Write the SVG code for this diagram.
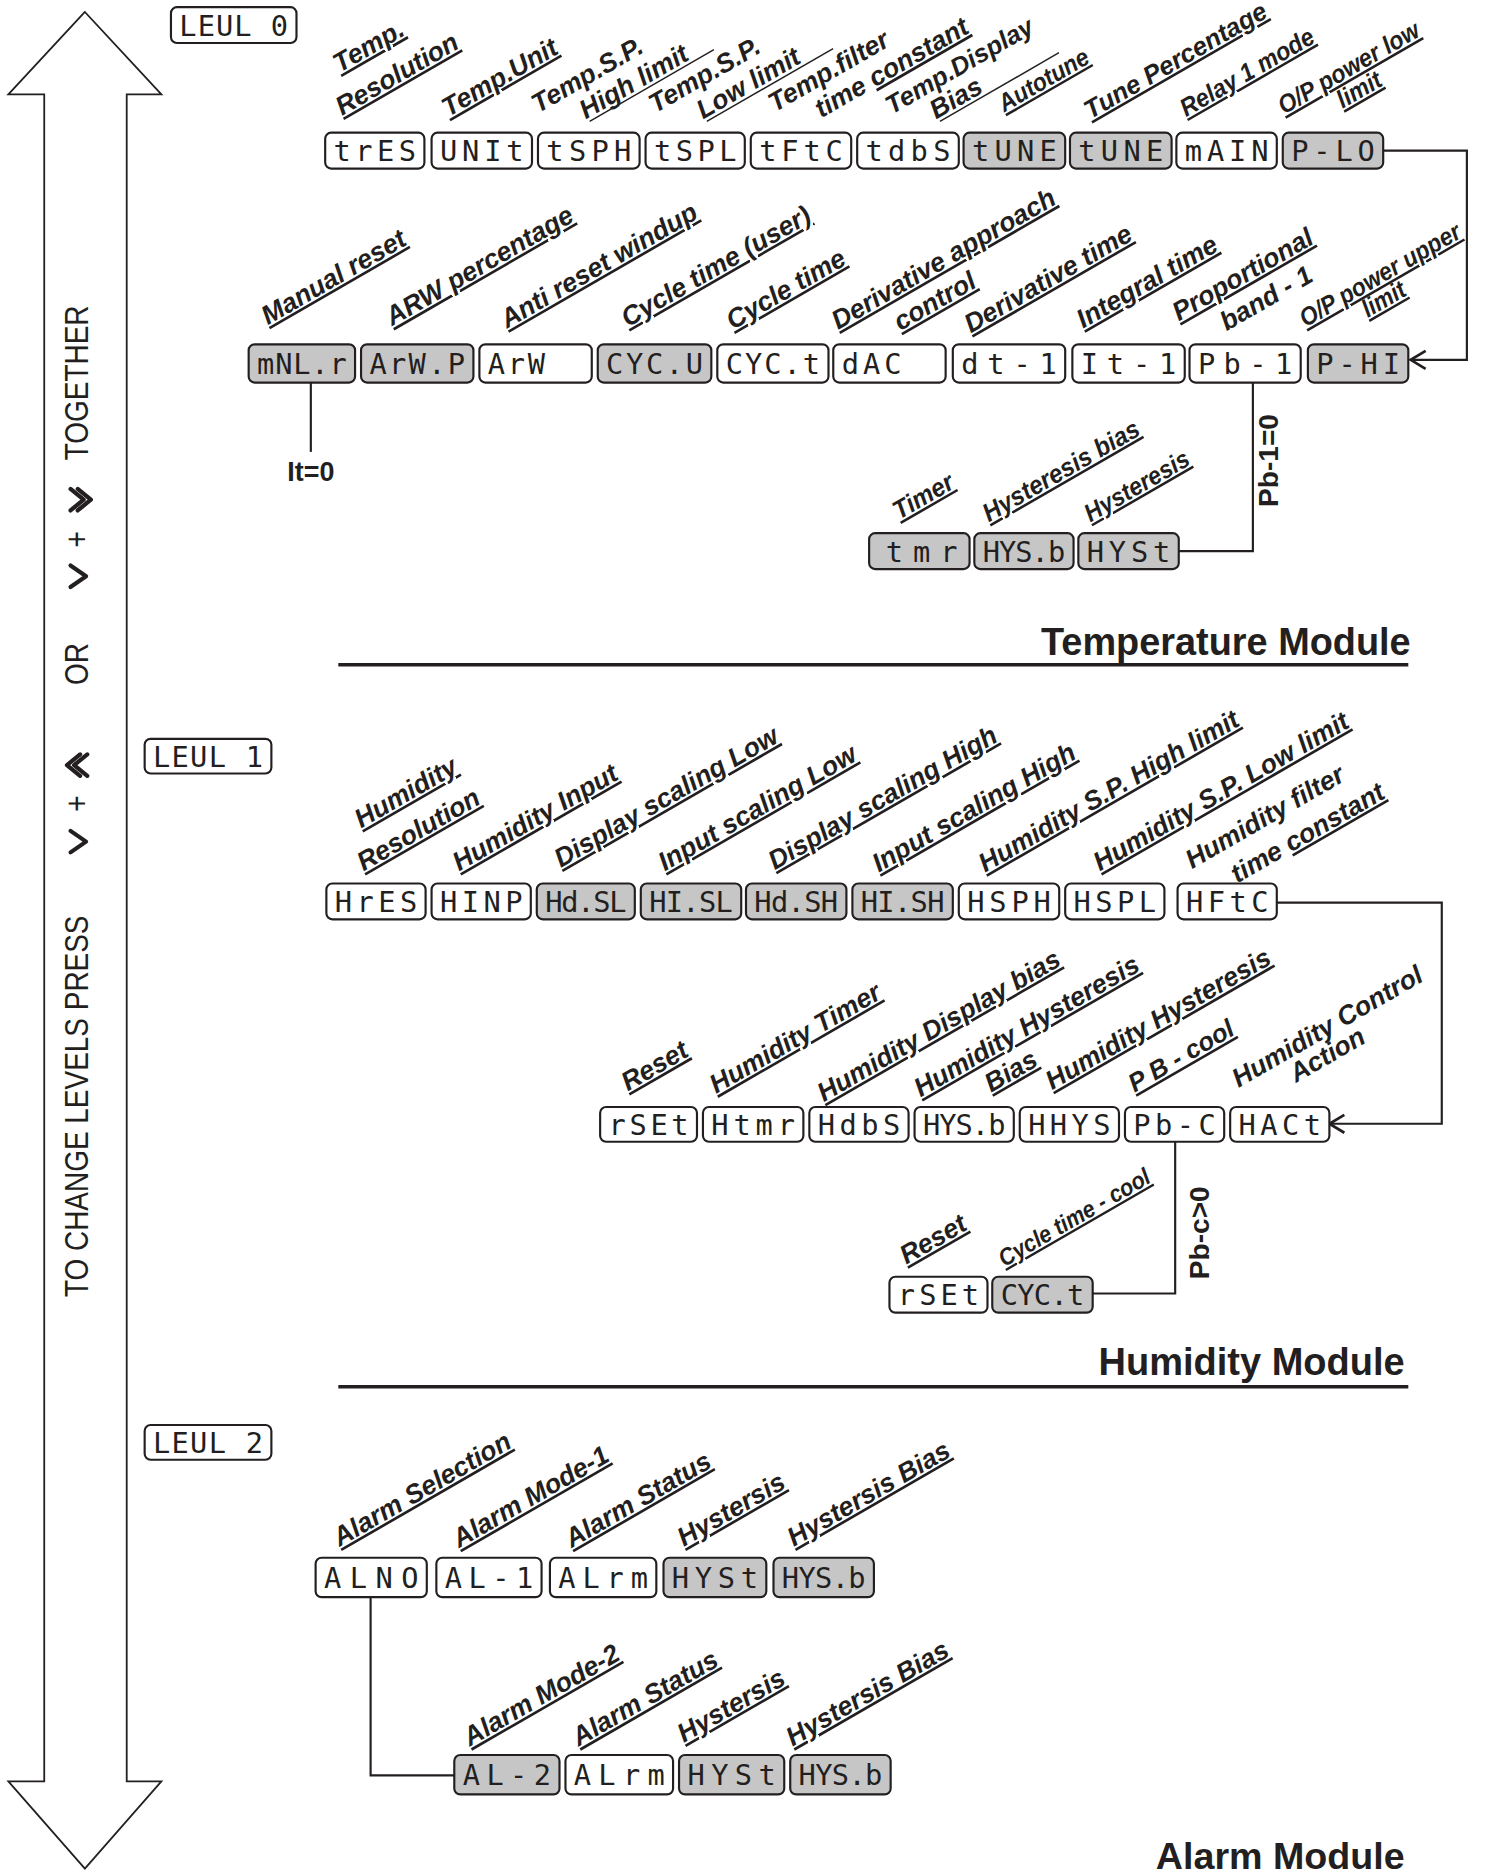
<svg xmlns="http://www.w3.org/2000/svg" width="1486" height="1874" viewBox="0 0 1486 1874">
<style>
.bx{stroke:#231f20;stroke-width:1.8;fill:#fff}
.g{fill:#c6c6c6}
.sg{font-family:'DejaVu Sans Mono','Liberation Mono',monospace;font-size:24px;fill:#231f20}
.lb{font-family:'Liberation Sans',Arial,sans-serif;font-weight:bold;font-style:italic;font-size:22.2px;fill:#231f20}
.u{text-decoration:underline}
.ul{stroke:#231f20;stroke-width:1.2}
.cn{fill:none;stroke:#231f20;stroke-width:1.8}
.vt{font-family:'Liberation Sans',Arial,sans-serif;font-size:23.4px;fill:#231f20}
.bd{font-family:'Liberation Sans',Arial,sans-serif;font-weight:bold;fill:#231f20}
.ch{fill:none;stroke:#231f20;stroke-width:3.5;stroke-linecap:round;stroke-linejoin:round}
</style>
<defs>
<marker id="ah" markerUnits="userSpaceOnUse" markerWidth="20" markerHeight="20" refX="0" refY="0" viewBox="-12 -8 14 16" orient="auto">
<path d="M-10,-6 L0,0 L-10,6" fill="none" stroke="#231f20" stroke-width="1.8"/>
</marker>
</defs>
<rect width="1486" height="1874" fill="#fff"/>
<g transform="scale(1.1955)">
<g id="level-arrow">
<polygon points="71,10 7,79 37,79 37,1490 7,1490 71,1563 135,1490 106,1490 106,79 135,79" fill="#fff" stroke="#231f20" stroke-width="1.5"/>
<text class="vt" transform="translate(73.5,1085) rotate(-90) scale(1,1.2)">TO CHANGE LEVELS PRESS</text>
<polyline class="ch" points="59,695 72,704 59,713"/>
<text class="vt" transform="translate(73.5,679) rotate(-90) scale(1,1.2)">+</text>
<polyline class="ch" points="73,631 62,640 73,649"/>
<polyline class="ch" points="67,631 56,640 67,649"/>
<text class="vt" transform="translate(73.5,573) rotate(-90) scale(1,1.2)">OR</text>
<polyline class="ch" points="59,473 72,482 59,491"/>
<text class="vt" transform="translate(73.5,458) rotate(-90) scale(1,1.2)">+</text>
<polyline class="ch" points="59,409 70,418 59,427"/>
<polyline class="ch" points="65,409 76,418 65,427"/>
<text class="vt" transform="translate(73.5,385) rotate(-90) scale(1,1.2)">TOGETHER</text>
</g>

<g id="connectors">
<path class="cn" d="M1157,126 H1227 V301 H1180" marker-end="url(#ah)"/>
<path class="cn" d="M1048,320 V461 H986"/>
<path class="cn" d="M260,320 V378"/>
<path class="cn" d="M1068,755 H1206 V940 H1112" marker-end="url(#ah)"/>
<path class="cn" d="M983,955 V1082 H914"/>
<path class="cn" d="M310,1336 V1485 H380"/>
<text class="bd" style="font-size:22.5px" x="260" y="402" text-anchor="middle">It=0</text>
<text class="bd" style="font-size:23.5px" transform="translate(1069,424) rotate(-90)">Pb-1=0</text>
<text class="bd" style="font-size:23.5px" transform="translate(1011,1070) rotate(-90)">Pb-c&gt;0</text>
</g>

<g id="level0"><rect class="bx" x="143" y="6" width="105" height="30" rx="5"/><text class="sg" x="150" y="30" textLength="91" lengthAdjust="spacing">LEUL 0</text></g>
<g id="level1"><rect class="bx" x="121" y="618" width="106" height="29" rx="5"/><text class="sg" x="128" y="641.5" textLength="92" lengthAdjust="spacing">LEUL 1</text></g>
<g id="level2"><rect class="bx" x="121" y="1192" width="106" height="29" rx="5"/><text class="sg" x="128" y="1215.5" textLength="92" lengthAdjust="spacing">LEUL 2</text></g>

<!-- Temperature level 0 row 1 -->
<g id="tres"><rect class="bx" x="272" y="111" width="83" height="30" rx="5"/><text class="sg" x="279" y="135" textLength="69" lengthAdjust="spacing">trES</text>
<text class="lb u" transform="translate(284,61) rotate(-30)">Temp.</text><text class="lb u" transform="translate(286,97) rotate(-30)">Resolution</text></g>
<g id="unit"><rect class="bx" x="361" y="111" width="84" height="30" rx="5"/><text class="sg" x="368" y="135" textLength="70" lengthAdjust="spacing">UNIt</text>
<text class="lb u" transform="translate(375,98) rotate(-30)">Temp.Unit</text></g>
<g id="tsph"><rect class="bx" x="450" y="111" width="85" height="30" rx="5"/><text class="sg" x="457" y="135" textLength="71" lengthAdjust="spacing">tSPH</text>
<text class="lb" transform="translate(450,95) rotate(-30)">Temp.S.P.</text><g transform="translate(490,100) rotate(-30)"><text class="lb" x="0" y="0">High limit</text><line class="ul" x1="2" y1="3" x2="122" y2="3"/></g></g>
<g id="tspl"><rect class="bx" x="540" y="111" width="83" height="30" rx="5"/><text class="sg" x="547" y="135" textLength="69" lengthAdjust="spacing">tSPL</text>
<text class="lb" transform="translate(548,95) rotate(-30)">Temp.S.P.</text><g transform="translate(588,100) rotate(-30)"><text class="lb" x="0" y="0">Low limit</text><line class="ul" x1="2" y1="3" x2="124" y2="3"/></g></g>
<g id="tftc"><rect class="bx" x="628" y="111" width="84" height="30" rx="5"/><text class="sg" x="635" y="135" textLength="70" lengthAdjust="spacing">tFtC</text>
<text class="lb" transform="translate(648,94) rotate(-30)">Temp.filter</text><text class="lb" transform="translate(687,99) rotate(-30)">time <tspan class="u">constant</tspan></text></g>
<g id="tdbs"><rect class="bx" x="717" y="111" width="85" height="30" rx="5"/><text class="sg" x="724" y="135" textLength="71" lengthAdjust="spacing">tdbS</text>
<text class="lb" style="font-size:21.5px" transform="translate(746,96) rotate(-30)">Temp.Display</text><g transform="translate(783,100) rotate(-30)"><text class="lb" x="0" y="0">Bias</text><line class="ul" x1="2" y1="3" x2="117" y2="3"/></g></g>
<g id="tune1"><rect class="bx g" x="806" y="111" width="85" height="30" rx="5"/><text class="sg" x="813" y="135" textLength="71" lengthAdjust="spacing">tUNE</text>
<text class="lb u" style="font-size:21px" textLength="84" lengthAdjust="spacingAndGlyphs" transform="translate(840,94) rotate(-30)">Autotune</text></g>
<g id="tune2"><rect class="bx g" x="895" y="111" width="85" height="30" rx="5"/><text class="sg" x="902" y="135" textLength="71" lengthAdjust="spacing">tUNE</text>
<text class="lb u" style="font-size:21.5px" transform="translate(912,100) rotate(-30)">Tune Percentage</text></g>
<g id="main"><rect class="bx" x="984" y="111" width="84" height="30" rx="5"/><text class="sg" x="991" y="135" textLength="70" lengthAdjust="spacing">mAIN</text>
<text class="lb u" style="font-size:21px" textLength="126" lengthAdjust="spacingAndGlyphs" transform="translate(992,98) rotate(-30)">Relay 1 mode</text></g>
<g id="p-lo"><rect class="bx g" x="1073" y="111" width="84" height="30" rx="5"/><text class="sg" x="1080" y="135" textLength="70" lengthAdjust="spacing">P-LO</text>
<text class="lb u" style="font-size:21px" textLength="133" lengthAdjust="spacingAndGlyphs" transform="translate(1074,96) rotate(-30)">O/P power low</text><text class="lb u" style="font-size:21px" textLength="40" lengthAdjust="spacingAndGlyphs" transform="translate(1123,91) rotate(-30)">limit</text></g>

<!-- Temperature row 2 -->
<g id="mnlr"><rect class="bx g" x="208" y="288" width="89" height="32" rx="5"/><text class="sg" x="215" y="313" textLength="75" lengthAdjust="spacing">mNL.r</text>
<text class="lb u" transform="translate(224,272) rotate(-30)">Manual reset</text></g>
<g id="arwp"><rect class="bx g" x="302" y="288" width="94" height="32" rx="5"/><text class="sg" x="309" y="313" textLength="80" lengthAdjust="spacing">ArW.P</text>
<text class="lb u" transform="translate(328,273) rotate(-30)">ARW percentage</text></g>
<g id="arw"><rect class="bx" x="401" y="288" width="94" height="32" rx="5"/><text class="sg" x="408" y="313" textLength="48" lengthAdjust="spacing">ArW</text>
<text class="lb u" transform="translate(424,275) rotate(-30)">Anti reset windup</text></g>
<g id="cycu"><rect class="bx g" x="500" y="288" width="95" height="32" rx="5"/><text class="sg" x="507" y="313" textLength="81" lengthAdjust="spacing">CYC.U</text>
<text class="lb u" transform="translate(525,274) rotate(-30)">Cycle time (user)</text></g>
<g id="cyct"><rect class="bx" x="600" y="288" width="93" height="32" rx="5"/><text class="sg" x="607" y="313" textLength="79" lengthAdjust="spacing">CYC.t</text>
<text class="lb u" transform="translate(613,276) rotate(-30)">Cycle time</text></g>
<g id="dac"><rect class="bx" x="697" y="288" width="94" height="32" rx="5"/><text class="sg" x="704" y="313" textLength="50" lengthAdjust="spacing">dAC</text>
<text class="lb u" transform="translate(701,276) rotate(-30)">Derivative approach</text><text class="lb u" transform="translate(753,277) rotate(-30)">control</text></g>
<g id="dt1"><rect class="bx" x="797" y="288" width="94" height="32" rx="5"/><text class="sg" x="804" y="313" textLength="80" lengthAdjust="spacing">dt-1</text>
<text class="lb u" transform="translate(812,279) rotate(-30)">Derivative time</text></g>
<g id="it1"><rect class="bx" x="897" y="288" width="94" height="32" rx="5"/><text class="sg" x="904" y="313" textLength="80" lengthAdjust="spacing">It-1</text>
<text class="lb u" transform="translate(906,275) rotate(-30)">Integral time</text></g>
<g id="pb1"><rect class="bx" x="995" y="288" width="93" height="32" rx="5"/><text class="sg" x="1002" y="313" textLength="79" lengthAdjust="spacing">Pb-1</text>
<text class="lb u" transform="translate(986,269) rotate(-30)">Proportional</text><text class="lb" transform="translate(1026,277) rotate(-30)">band - 1</text></g>
<g id="p-hi"><rect class="bx g" x="1094" y="288" width="84" height="32" rx="5"/><text class="sg" x="1101" y="313" textLength="70" lengthAdjust="spacing">P-HI</text>
<text class="lb u" style="font-size:21px" textLength="152" lengthAdjust="spacingAndGlyphs" transform="translate(1092,274) rotate(-30)">O/P power upper</text><text class="lb u" style="font-size:21px" textLength="39" lengthAdjust="spacingAndGlyphs" transform="translate(1144,266) rotate(-30)">limit</text></g>

<!-- Temperature row 3 -->
<g id="tmr"><rect class="bx g" x="727" y="446" width="84" height="30" rx="5"/><text class="sg" x="741" y="470" textLength="60" lengthAdjust="spacing">tmr</text>
<text class="lb u" style="font-size:21.5px" textLength="55" lengthAdjust="spacingAndGlyphs" transform="translate(752,435) rotate(-30)">Timer</text></g>
<g id="hysb"><rect class="bx g" x="815" y="446" width="83" height="30" rx="5"/><text class="sg" x="822" y="470" textLength="69" lengthAdjust="spacing">HYS.b</text>
<text class="lb u" style="font-size:21.5px" textLength="148" lengthAdjust="spacingAndGlyphs" transform="translate(827,437) rotate(-30)">Hysteresis bias</text></g>
<g id="hyst"><rect class="bx g" x="902" y="446" width="84" height="30" rx="5"/><text class="sg" x="909" y="470" textLength="70" lengthAdjust="spacing">HYSt</text>
<text class="lb u" style="font-size:21px" textLength="98" lengthAdjust="spacingAndGlyphs" transform="translate(912,437) rotate(-30)">Hysteresis</text></g>

<g id="temp-title"><text class="bd" style="font-size:31.7px" x="1180" y="548" text-anchor="end">Temperature Module</text><line x1="283" y1="556" x2="1178" y2="556" stroke="#231f20" stroke-width="3"/></g>

<!-- Humidity row 1 -->
<g id="hres"><rect class="bx" x="273" y="739" width="83" height="30" rx="5"/><text class="sg" x="280" y="763" textLength="69" lengthAdjust="spacing">HrES</text>
<text class="lb u" transform="translate(302,693) rotate(-30)">Humidity</text><text class="lb u" transform="translate(304,729) rotate(-30)">Resolution</text></g>
<g id="hinp"><rect class="bx" x="361" y="739" width="83" height="30" rx="5"/><text class="sg" x="368" y="763" textLength="69" lengthAdjust="spacing">HINP</text>
<text class="lb u" transform="translate(384,729) rotate(-30)">Humidity Input</text></g>
<g id="hdsl"><rect class="bx g" x="449" y="739" width="82" height="30" rx="5"/><text class="sg" x="456" y="763" textLength="68" lengthAdjust="spacing">Hd.SL</text>
<text class="lb u" transform="translate(469,726) rotate(-30)">Display scaling Low</text></g>
<g id="hisl"><rect class="bx g" x="536" y="739" width="84" height="30" rx="5"/><text class="sg" x="543" y="763" textLength="70" lengthAdjust="spacing">HI.SL</text>
<text class="lb u" transform="translate(556,729) rotate(-30)">Input scaling Low</text></g>
<g id="hdsh"><rect class="bx g" x="624" y="739" width="84" height="30" rx="5"/><text class="sg" x="631" y="763" textLength="70" lengthAdjust="spacing">Hd.SH</text>
<text class="lb u" transform="translate(648,728) rotate(-30)">Display scaling High</text></g>
<g id="hish"><rect class="bx g" x="713" y="739" width="84" height="30" rx="5"/><text class="sg" x="720" y="763" textLength="70" lengthAdjust="spacing">HI.SH</text>
<text class="lb u" transform="translate(735,730) rotate(-30)">Input scaling High</text></g>
<g id="hsph"><rect class="bx" x="802" y="739" width="84" height="30" rx="5"/><text class="sg" x="809" y="763" textLength="70" lengthAdjust="spacing">HSPH</text>
<text class="lb u" transform="translate(824,730) rotate(-30)">Humidity S.P. High limit</text></g>
<g id="hspl"><rect class="bx" x="891" y="739" width="83" height="30" rx="5"/><text class="sg" x="898" y="763" textLength="69" lengthAdjust="spacing">HSPL</text>
<text class="lb u" transform="translate(920,729) rotate(-30)">Humidity S.P. Low limit</text></g>
<g id="hftc"><rect class="bx" x="985" y="739" width="83" height="30" rx="5"/><text class="sg" x="992" y="763" textLength="69" lengthAdjust="spacing">HFtC</text>
<text class="lb" transform="translate(997,727) rotate(-30)">Humidity filter</text><text class="lb" transform="translate(1035,739) rotate(-30)">time <tspan class="u">constant</tspan></text></g>

<!-- Humidity row 2 -->
<g id="rset1"><rect class="bx" x="502" y="926" width="81" height="29" rx="5"/><text class="sg" x="509" y="949.5" textLength="67" lengthAdjust="spacing">rSEt</text>
<text class="lb u" transform="translate(525,913) rotate(-30)">Reset</text></g>
<g id="htmr"><rect class="bx" x="588" y="926" width="84" height="29" rx="5"/><text class="sg" x="595" y="949.5" textLength="70" lengthAdjust="spacing">Htmr</text>
<text class="lb u" transform="translate(599,915) rotate(-30)">Humidity Timer</text></g>
<g id="hdbs"><rect class="bx" x="677" y="926" width="83" height="29" rx="5"/><text class="sg" x="684" y="949.5" textLength="69" lengthAdjust="spacing">HdbS</text>
<text class="lb u" transform="translate(689,922) rotate(-30)">Humidity Display bias</text></g>
<g id="hhysb"><rect class="bx" x="765" y="926" width="83" height="29" rx="5"/><text class="sg" x="772" y="949.5" textLength="69" lengthAdjust="spacing">HYS.b</text>
<text class="lb u" transform="translate(770,918) rotate(-30)">Humidity Hysteresis</text><text class="lb u" transform="translate(829,914) rotate(-30)">Bias</text></g>
<g id="hhys"><rect class="bx" x="853" y="926" width="83" height="29" rx="5"/><text class="sg" x="860" y="949.5" textLength="69" lengthAdjust="spacing">HHYS</text>
<text class="lb u" transform="translate(880,912) rotate(-30)">Humidity Hysteresis</text></g>
<g id="pbc"><rect class="bx" x="941" y="926" width="83" height="29" rx="5"/><text class="sg" x="948" y="949.5" textLength="69" lengthAdjust="spacing">Pb-C</text>
<text class="lb u" style="font-size:21.5px" transform="translate(949,914) rotate(-30)">P B - cool</text></g>
<g id="hact"><rect class="bx" x="1029" y="926" width="83" height="29" rx="5"/><text class="sg" x="1036" y="949.5" textLength="69" lengthAdjust="spacing">HACt</text>
<text class="lb" transform="translate(1036,910) rotate(-30)">Humidity Control</text><text class="lb" transform="translate(1084,906) rotate(-30)">Action</text></g>

<!-- Humidity row 3 -->
<g id="rset2"><rect class="bx" x="744" y="1068" width="82" height="30" rx="5"/><text class="sg" x="751" y="1092" textLength="68" lengthAdjust="spacing">rSEt</text>
<text class="lb u" transform="translate(758,1058) rotate(-30)">Reset</text></g>
<g id="cyctc"><rect class="bx g" x="830" y="1068" width="84" height="30" rx="5"/><text class="sg" x="837" y="1092" textLength="70" lengthAdjust="spacing">CYC.t</text>
<text class="lb u" style="font-size:20px" textLength="143" lengthAdjust="spacingAndGlyphs" transform="translate(840,1060) rotate(-30)">Cycle time - cool</text></g>

<g id="hum-title"><text class="bd" style="font-size:31.8px" x="1175" y="1150" text-anchor="end">Humidity Module</text><line x1="283" y1="1160" x2="1178" y2="1160" stroke="#231f20" stroke-width="3"/></g>

<!-- Alarm row 1 -->
<g id="alno"><rect class="bx" x="264" y="1303" width="93" height="33" rx="5"/><text class="sg" x="271" y="1328.5" textLength="79" lengthAdjust="spacing">ALNO</text>
<text class="lb u" transform="translate(284,1294) rotate(-30)">Alarm Selection</text></g>
<g id="al1"><rect class="bx" x="365" y="1303" width="88" height="33" rx="5"/><text class="sg" x="372" y="1328.5" textLength="74" lengthAdjust="spacing">AL-1</text>
<text class="lb u" transform="translate(384,1295) rotate(-30)">Alarm Mode-1</text></g>
<g id="alrm1"><rect class="bx" x="460" y="1303" width="89" height="33" rx="5"/><text class="sg" x="467" y="1328.5" textLength="75" lengthAdjust="spacing">ALrm</text>
<text class="lb u" transform="translate(478,1295) rotate(-30)">Alarm Status</text></g>
<g id="ahyst1"><rect class="bx g" x="555" y="1303" width="86" height="33" rx="5"/><text class="sg" x="562" y="1328.5" textLength="72" lengthAdjust="spacing">HYSt</text>
<text class="lb u" transform="translate(572,1294) rotate(-30)">Hystersis</text></g>
<g id="ahysb1"><rect class="bx g" x="647" y="1303" width="84" height="33" rx="5"/><text class="sg" x="654" y="1328.5" textLength="70" lengthAdjust="spacing">HYS.b</text>
<text class="lb u" transform="translate(664,1294) rotate(-30)">Hystersis Bias</text></g>

<!-- Alarm row 2 -->
<g id="al2"><rect class="bx g" x="380" y="1468" width="88" height="33" rx="5"/><text class="sg" x="387" y="1493.5" textLength="74" lengthAdjust="spacing">AL-2</text>
<text class="lb u" transform="translate(393,1461) rotate(-30)">Alarm Mode-2</text></g>
<g id="alrm2"><rect class="bx" x="473" y="1468" width="90" height="33" rx="5"/><text class="sg" x="480" y="1493.5" textLength="76" lengthAdjust="spacing">ALrm</text>
<text class="lb u" transform="translate(484,1461) rotate(-30)">Alarm Status</text></g>
<g id="ahyst2"><rect class="bx g" x="568" y="1468" width="88" height="33" rx="5"/><text class="sg" x="575" y="1493.5" textLength="74" lengthAdjust="spacing">HYSt</text>
<text class="lb u" transform="translate(572,1458) rotate(-30)">Hystersis</text></g>
<g id="ahysb2"><rect class="bx g" x="661" y="1468" width="84" height="33" rx="5"/><text class="sg" x="668" y="1493.5" textLength="70" lengthAdjust="spacing">HYS.b</text>
<text class="lb u" transform="translate(663,1461) rotate(-30)">Hystersis Bias</text></g>

<g id="alarm-title"><text class="bd" style="font-size:31.5px" x="1175" y="1563" text-anchor="end">Alarm Module</text></g>
</g>
</svg>
